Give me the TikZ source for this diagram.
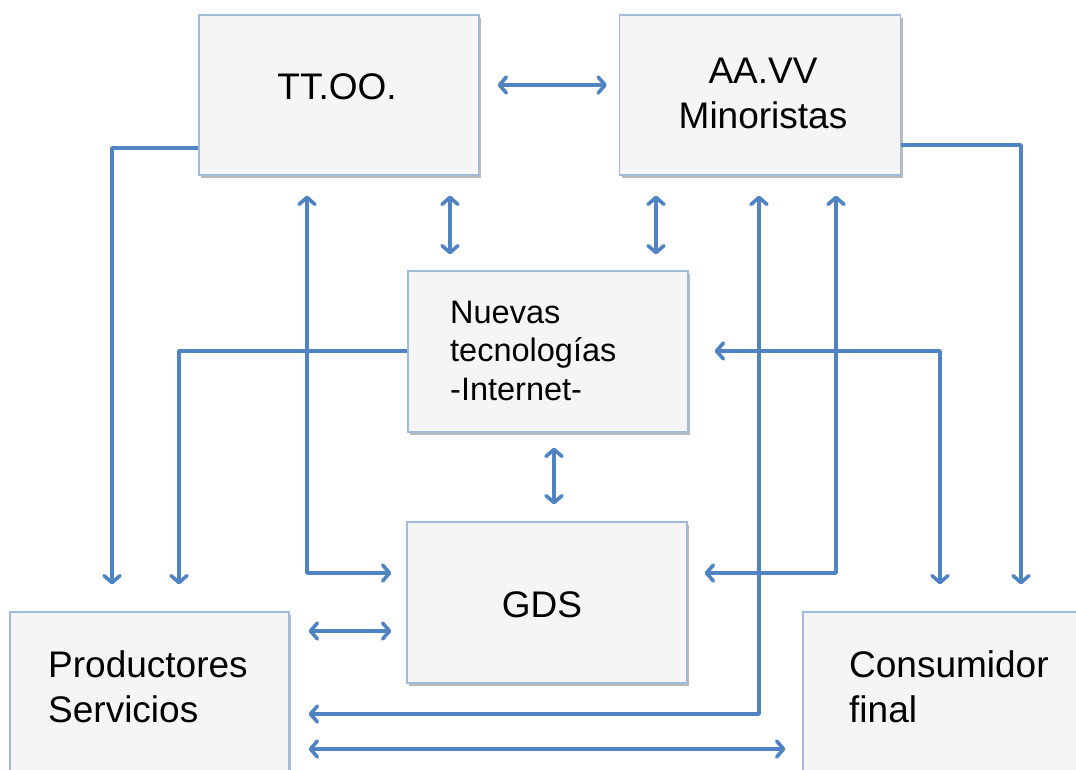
\documentclass[tikz,border=0pt]{standalone}
\usepackage{fontspec}
\setmainfont{Liberation Sans}
\usetikzlibrary{arrows.meta,shadows}
\definecolor{linkblue}{RGB}{79,131,193}
\definecolor{boxborder}{RGB}{160,186,220}
\definecolor{boxfill}{RGB}{245,245,245}
\tikzset{
  box/.style={draw=boxborder, line width=1.2pt, fill=boxfill, inner sep=0pt,
    drop shadow={shadow xshift=2pt, shadow yshift=-3pt, fill=black!60, opacity=.45}},
  conn/.style={draw=linkblue, line width=3.6pt, line join=round},
  big/.style={font=\fontsize{37}{45}\selectfont, inner sep=0pt},
  small/.style={font=\fontsize{32.5}{39}\selectfont, inner sep=0pt},
  >={Straight Barb[length=7pt,width=16pt,round]}
}
\begin{document}
\begin{tikzpicture}[x=1pt,y=-1pt]
\useasboundingbox (0,0) rectangle (1076,769);
\fill[white] (0,0) rectangle (1076,769);
\clip (0,0) rectangle (1076,769);

% boxes
\node[box, minimum width=280pt, minimum height=160pt] (tt)  at (339,95) {};
\node[box, minimum width=281pt, minimum height=160pt] (aa)  at (760,95) {};
\node[box, minimum width=280pt, minimum height=161pt] (nt)  at (548,351.5) {};
\node[box, minimum width=280pt, minimum height=161pt] (gds) at (547,602.5) {};
\node[box, minimum width=279pt, minimum height=208pt] (ps)  at (149.5,716) {};
\node[box, minimum width=297pt, minimum height=208pt] (cf)  at (951.5,716) {};

% texts
\node[big, anchor=base] (ttt) at (337,99) {TT.OO.};
\node[big, anchor=base] (aat1) at (763,83) {AA.VV};
\node[big, anchor=base] (aat2) at (763,128) {Minoristas};
\node[small, anchor=base west] (ntt1) at (450,323) {Nuevas};
\node[small, anchor=base west] (ntt2) at (450,361) {tecnologías};
\node[small, anchor=base west] (ntt3) at (450,400) {-Internet-};
\node[big, anchor=base] (gdst) at (542,617) {GDS};
\node[big, anchor=base west] (pst1) at (48,677) {Productores};
\node[big, anchor=base west] (pst2) at (48,722) {Servicios};
\node[big, anchor=base west] (cft1) at (849,677) {Consumidor};
\node[big, anchor=base west] (cft2) at (849,722) {final};

% connectors
\draw[conn,<->,shorten <=18pt,shorten >=12pt] (tt.east |- 0,85) -- (aa.west |- 0,85);
\draw[conn,->,shorten >=27pt] (tt.west |- 0,148) -| (ps.north -| 112,0);
\draw[conn,->,shorten >=27pt] (nt.west |- 0,351) -| (ps.north -| 179,0);
\draw[conn,<->,shorten <=20pt,shorten >=15pt] (tt.south -| 307,0) |- (gds.west |- 0,573);
\draw[conn,<->,shorten <=20pt,shorten >=16pt] (tt.south -| 450,0) -- (nt.north -| 450,0);
\draw[conn,<->,shorten <=20pt,shorten >=16pt] (aa.south -| 656,0) -- (nt.north -| 656,0);
\draw[conn,<->,shorten <=20pt,shorten >=19pt] (aa.south -| 759,0) |- (ps.east |- 0,714);
\draw[conn,<->,shorten <=20pt,shorten >=17pt] (aa.south -| 836,0) |- (gds.east |- 0,573);
\draw[conn,<->,shorten <=27pt,shorten >=26pt] (cf.north -| 940,0) |- (nt.east |- 0,351);
\draw[conn,->,shorten >=27pt] (aa.east |- 0,145) -| (cf.north -| 1021,0);
\draw[conn,<->,shorten <=19pt,shorten >=15pt] (ps.east |- 0,631) -- (gds.west |- 0,631);
\draw[conn,<->,shorten <=19pt,shorten >=17pt] (ps.east |- 0,749) -- (cf.west |- 0,749);
\draw[conn,<->,shorten <=15pt,shorten >=17pt] (nt.south -| 554,0) -- (gds.north -| 554,0);
\end{tikzpicture}
\end{document}
